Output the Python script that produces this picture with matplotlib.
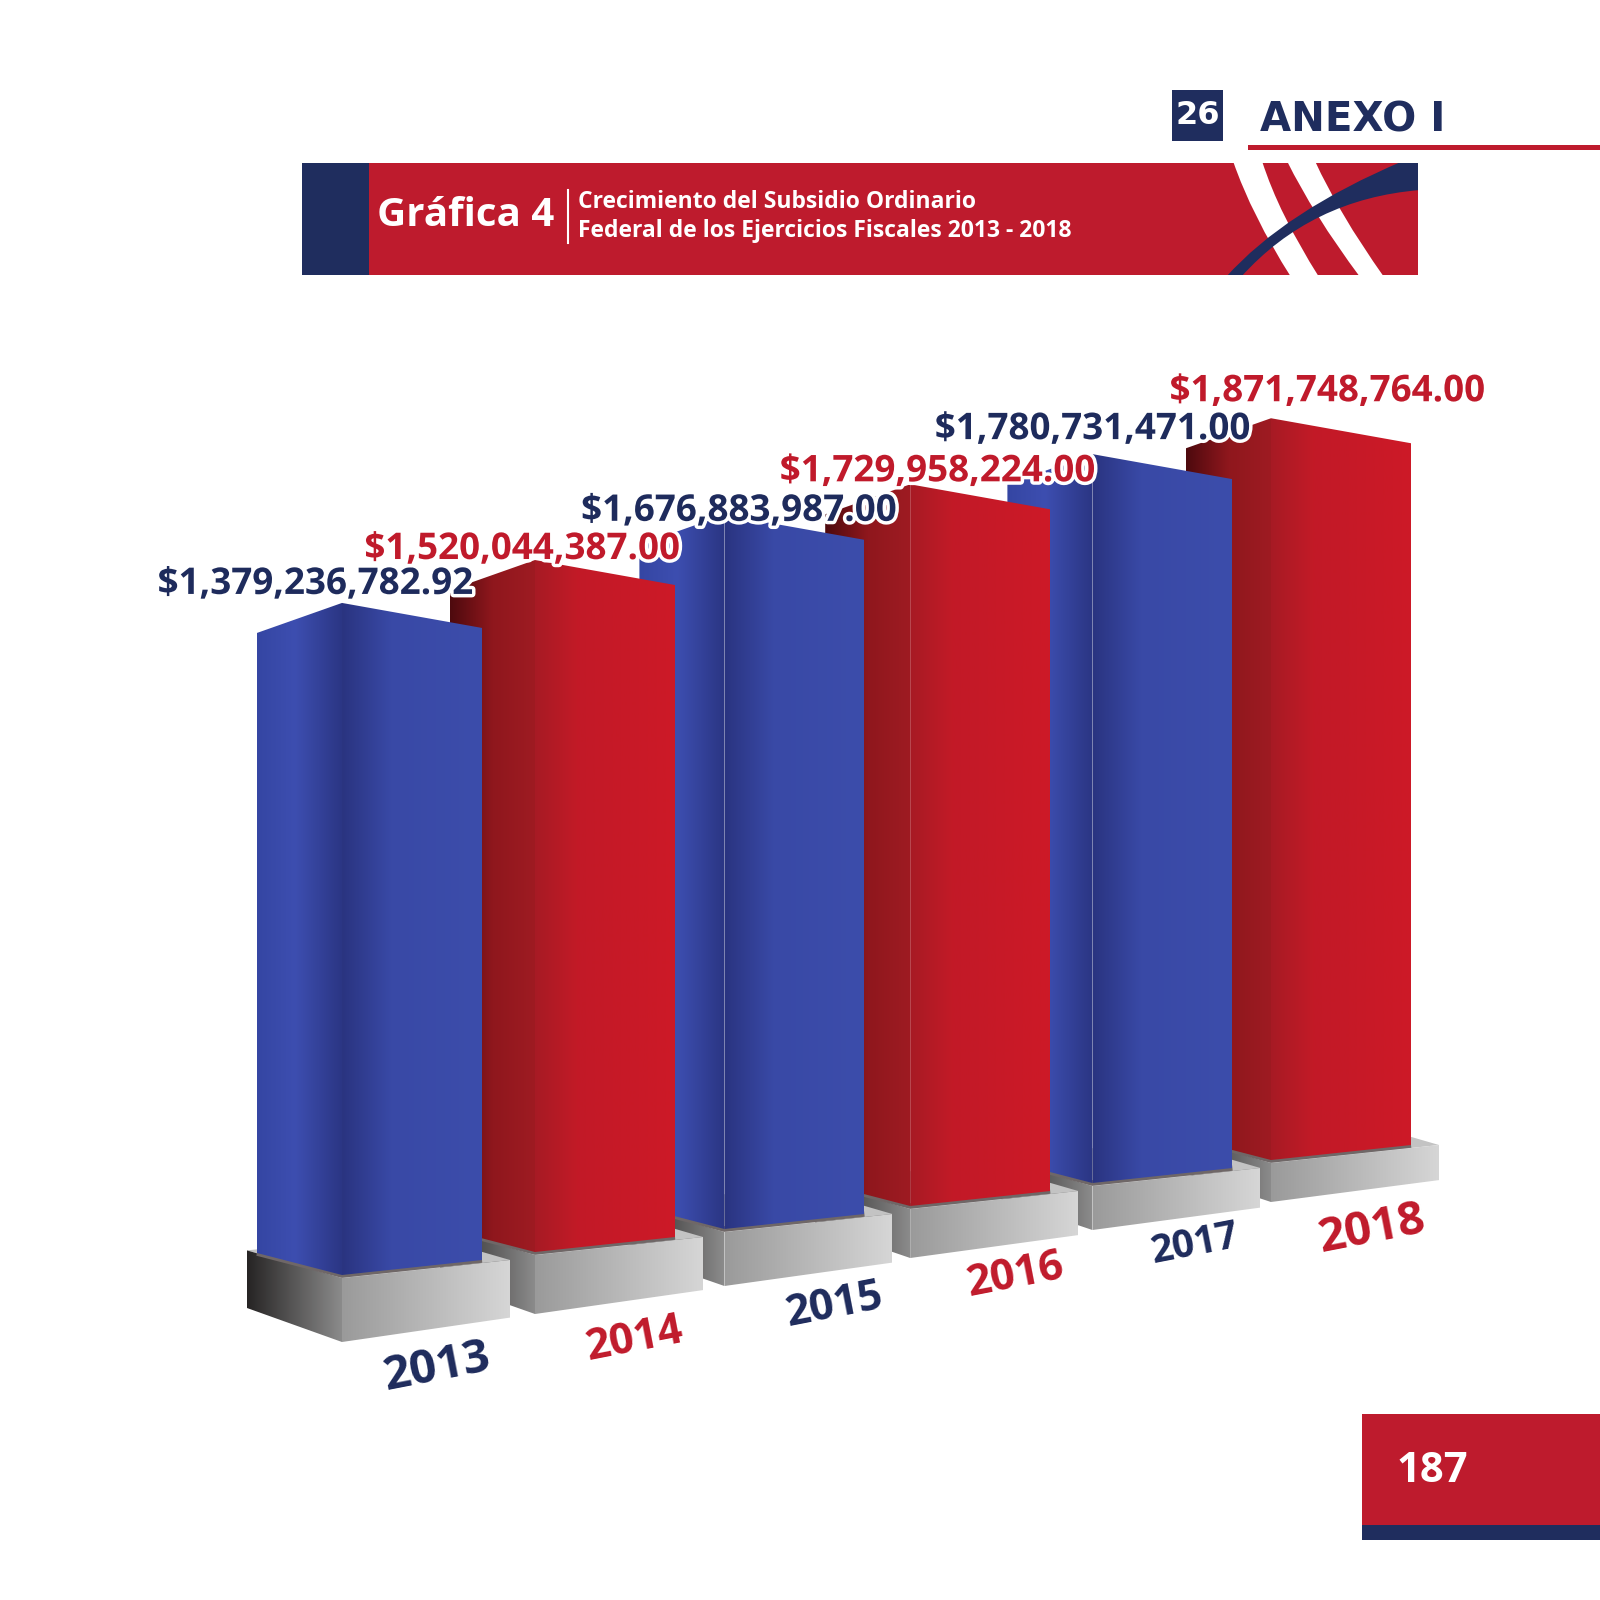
import numpy as np
import matplotlib
matplotlib.use("Agg")
import matplotlib.pyplot as plt
from matplotlib.patches import Polygon, Rectangle, PathPatch
from matplotlib.path import Path
from matplotlib.colors import LinearSegmentedColormap
from matplotlib import font_manager as fm
import matplotlib.patheffects as pe

# ---- data ----
years = ["2013", "2014", "2015", "2016", "2017", "2018"]
amounts = [1379236782.92, 1520044387.00, 1676883987.00,
           1729958224.00, 1780731471.00, 1871748764.00]
series = ["blue", "red", "blue", "red", "blue", "red"]

title_num = "Gráfica 4"
title_l1 = "Crecimiento del Subsidio Ordinario"
title_l2 = "Federal de los Ejercicios Fiscales 2013 - 2018"
section = "ANEXO I"
section_num = "26"
page_num = "187"

# ---- colours ----
NAVY = "#1f2d5e"
RED = "#be1b2d"
TXT_BLUE = "#1e2b5c"
TXT_RED = "#c01a2b"
FACES = {
    "blue": ([(0, "#3546a3"), (0.45, "#3d4eb0"), (1, "#2b3684")],
             [(0, "#2a3480"), (0.35, "#3949a6"), (1, "#3c4dab")]),
    "red": ([(0, "#4d0a0e"), (0.5, "#8f171d"), (1, "#9e1b22")],
            [(0, "#a71b24"), (0.3, "#c21a27"), (1, "#cd1927")]),
}
BASE_LEFT = [(0, "#262424"), (1, "#8b8b8b")]
BASE_FRONT = [(0, "#9a9a9a"), (1, "#d6d6d6")]


def pick_font(cands):
    for c in cands:
        try:
            fm.findfont(fm.FontProperties(family=c, weight="bold"),
                        fallback_to_default=False)
            return c
        except ValueError:
            pass
    return "DejaVu Sans"


SANS = pick_font(["Open Sans", "Noto Sans"])
WIDE = "DejaVu Sans"

# ---- page in pixel space ----
fig = plt.figure(figsize=(16, 16), dpi=100)
ax = fig.add_axes([0, 0, 1, 1])
ax.axis("off")


def grad_face(pts, stops, z):
    poly = Polygon(pts, closed=True, facecolor="none", edgecolor="none", zorder=z)
    ax.add_patch(poly)
    xs = [p[0] for p in pts]
    ys = [p[1] for p in pts]
    cmap = LinearSegmentedColormap.from_list("g", stops)
    grad = np.linspace(0, 1, 256)[None, :]
    im = ax.imshow(grad, cmap=cmap, aspect="auto", interpolation="bilinear",
                   extent=[min(xs), max(xs), max(ys), min(ys)], zorder=z)
    im.set_clip_path(poly)


# value -> pixel height (truncated axis, like the original)
H0, K = 476.9, 0.1415e-6


def bar_h(v):
    return H0 + K * v


def corner_x(i):
    return 342 + 193 * i - 1.8 * i * (i - 1)


def ground_y(i):
    return 1275 - 23 * i


for i in range(len(years) - 1, -1, -1):
    xc = corner_x(i)
    xl, xr = xc - 85, xc + 140
    yb = ground_y(i)
    yt = yb - bar_h(amounts[i])
    z = 10 + (len(years) - i) * 5

    # base block
    hb = 64 - 5 * i
    bl = (xl - 10, yb - 24.6)
    bc = (xc, yb + 3)
    br = (xr + 28, yb - 15)
    back = (br[0] + bl[0] - bc[0], br[1] + bl[1] - bc[1])
    ax.add_patch(Polygon([bl, bc, br, back], closed=True, facecolor="#c3c3c3",
                         edgecolor="none", zorder=z))
    grad_face([bl, bc, (bc[0], bc[1] + hb), (bl[0], bl[1] + hb * 0.9)], BASE_LEFT, z + 0.5)
    grad_face([bc, br, (br[0], br[1] + hb * 0.9), (bc[0], bc[1] + hb)], BASE_FRONT, z + 0.5)

    # shadow where the bar meets the base
    ax.plot([xl, xc, xr], [yb - 22, yb, yb - 15], color="#6f6767", lw=4,
            solid_capstyle="butt", zorder=z + 0.8)

    # bar faces
    lstops, fstops = FACES[series[i]]
    grad_face([(xl, yt + 30), (xc, yt), (xc, yb), (xl, yb - 22)], lstops, z + 1)
    grad_face([(xc, yt), (xr, yt + 25), (xr, yb - 15), (xc, yb)], fstops, z + 1)

# value labels
label_dx = [-27, -13, 14, 27, 0, 56]
label_dy = [-9, -1, 6, -3, -15, -17]
for i, v in enumerate(amounts):
    yt = ground_y(i) - bar_h(v)
    col = TXT_BLUE if series[i] == "blue" else TXT_RED
    ax.text(corner_x(i) + label_dx[i], yt + label_dy[i], f"${v:,.2f}", color=col,
            fontsize=26.5, fontweight="bold", family=SANS, ha="center", va="baseline",
            zorder=100, path_effects=[pe.withStroke(linewidth=5, foreground="white")])

# year labels on the floor
year_size = [34, 31, 31, 31, 28, 34]
year_dx = [95, 99, 110, 105, 103, 101]
year_dy = [92, 87, 76, 69, 61, 69]
for i, y in enumerate(years):
    col = TXT_BLUE if series[i] == "blue" else TXT_RED
    ax.text(corner_x(i) + year_dx[i], ground_y(i) + year_dy[i], y, color=col,
            fontsize=year_size[i], fontweight="bold", family=SANS,
            ha="center", va="center", rotation=11, rotation_mode="anchor", zorder=100)

# ---- header ----
ax.add_patch(Rectangle((1172, 90), 51, 51, facecolor=NAVY, edgecolor="none", zorder=5))
ax.text(1197.5, 116, section_num, color="white", fontsize=23, fontweight="bold",
        family=WIDE, ha="center", va="center", zorder=6)
ax.text(1260, 120, section, color=NAVY, fontsize=29, fontweight="bold",
        family=WIDE, ha="left", va="center", zorder=6)
ax.add_patch(Rectangle((1248, 145), 352, 5, facecolor=RED, edgecolor="none", zorder=5))

banner = Rectangle((302, 163), 1116, 112, facecolor=RED, edgecolor="none", zorder=5)
ax.add_patch(banner)
ax.add_patch(Rectangle((302, 163), 67, 112, facecolor=NAVY, edgecolor="none", zorder=6))


def curve_patch(verts, codes, color, z):
    p = PathPatch(Path(verts, codes), facecolor=color, edgecolor="none", zorder=z)
    ax.add_patch(p)
    p.set_clip_path(banner)


M, L, C3 = Path.MOVETO, Path.LINETO, Path.CURVE3
# white stripes: (top-left, top-right, bottom-right, bottom-left, ctrl right, ctrl left)
stripes = [((1233, 161), (1262, 161), (1319, 277), (1291, 277), (1279, 214), (1252, 216)),
           ((1287, 161), (1315, 161), (1384, 277), (1360, 277), (1338, 212), (1313, 214))]
for (a, b, c, d, cb, ca) in stripes:
    curve_patch([a, b, cb, c, d, ca, a, a],
                [M, L, C3, C3, L, C3, C3, Path.CLOSEPOLY], "white", 7)
curve_patch([(1226, 277), (1285, 211), (1403, 161), (1420, 161), (1420, 190),
             (1311, 199), (1241, 277), (1226, 277)],
            [M, C3, C3, L, L, C3, C3, Path.CLOSEPOLY], NAVY, 8)

ax.text(377, 216, title_num, color="white", fontsize=29, fontweight="bold",
        family=SANS, ha="left", va="center", zorder=9)
ax.plot([568, 568], [190, 243], color="white", lw=1.5, zorder=9)
ax.text(578, 202, title_l1, color="white", fontsize=16.5, fontweight="bold",
        family=SANS, ha="left", va="center", zorder=9)
ax.text(578, 231, title_l2, color="white", fontsize=16.5, fontweight="bold",
        family=SANS, ha="left", va="center", zorder=9)

# ---- page number ----
ax.add_patch(Rectangle((1362, 1414), 238, 111, facecolor=RED, edgecolor="none", zorder=5))
ax.add_patch(Rectangle((1362, 1525), 238, 15, facecolor=NAVY, edgecolor="none", zorder=5))
ax.text(1432, 1472, page_num, color="white", fontsize=30, fontweight="bold",
        family=SANS, ha="center", va="center", zorder=6)

ax.set_xlim(0, 1600)
ax.set_ylim(1600, 0)
fig.savefig("out.png", dpi=100, facecolor="white")
